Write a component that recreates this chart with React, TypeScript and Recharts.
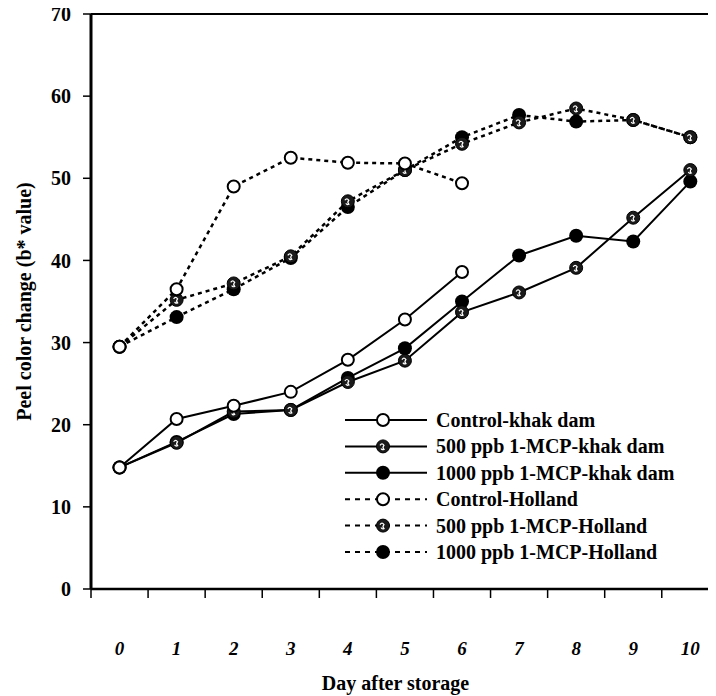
import { LineChart, Line, XAxis, YAxis, Legend, ReferenceLine } from 'recharts'

const days = [0, 1, 2, 3, 4, 5, 6, 7, 8, 9, 10]
const controlKhak = [14.8, 20.7, 22.3, 24.0, 27.9, 32.8, 38.6, null, null, null, null]
const mcp500Khak = [14.8, 17.8, 21.6, 21.8, 25.2, 27.8, 33.7, 36.1, 39.1, 45.2, 51.0]
const mcp1000Khak = [14.8, 17.9, 21.3, 21.8, 25.7, 29.3, 35.0, 40.6, 43.0, 42.3, 49.6]
const controlHolland = [29.5, 36.5, 49.0, 52.5, 51.9, 51.8, 49.4, null, null, null, null]
const mcp500Holland = [29.5, 35.2, 37.2, 40.5, 47.2, 51.0, 54.2, 56.8, 58.5, 57.1, 55.0]
const mcp1000Holland = [29.5, 33.1, 36.5, 40.3, 46.5, 51.0, 55.0, 57.7, 56.9, 57.1, 55.0]
const yTicks = [0, 10, 20, 30, 40, 50, 60, 70]

const FONT = '"Liberation Serif", "Times New Roman", serif'

type Kind = 'open' | 'hatch' | 'filled'

const series = [
  { key: 'ck', name: 'Control-khak dam', kind: 'open' as Kind, dashed: false, values: controlKhak },
  { key: 'k500', name: '500 ppb 1-MCP-khak dam', kind: 'hatch' as Kind, dashed: false, values: mcp500Khak },
  { key: 'k1000', name: '1000 ppb 1-MCP-khak dam', kind: 'filled' as Kind, dashed: false, values: mcp1000Khak },
  { key: 'ch', name: 'Control-Holland', kind: 'open' as Kind, dashed: true, values: controlHolland },
  { key: 'h500', name: '500 ppb 1-MCP-Holland', kind: 'hatch' as Kind, dashed: true, values: mcp500Holland },
  { key: 'h1000', name: '1000 ppb 1-MCP-Holland', kind: 'filled' as Kind, dashed: true, values: mcp1000Holland },
]

const data = days.map((day, i) => {
  const row: Record<string, number | null> = { day }
  series.forEach((s) => { row[s.key] = s.values[i] })
  return row
})

// labels sit on whole days, tick marks between them
const xTicks = days.flatMap((d) => [d - 0.5, d])

const Marker = ({ cx, cy, kind }: { cx: number; cy: number; kind: Kind }) => {
  if (kind === 'filled') return <circle cx={cx} cy={cy} r={7} fill="#000" />
  if (kind === 'open') return <circle cx={cx} cy={cy} r={6} fill="#fff" stroke="#000" strokeWidth={2} />
  return (
    <g>
      <circle cx={cx} cy={cy} r={6.5} fill="#1a1a1a" stroke="#000" strokeWidth={1} />
      <path
        d={`M${cx - 3},${cy - 1} q2,-3 4,0 q-2,2 0,4 q-2,1 -3,-1`}
        fill="none" stroke="#fff" strokeWidth={1.2}
      />
    </g>
  )
}

const makeDot = (kind: Kind) => (props: any) => {
  const { cx, cy, index } = props
  if (cx == null || cy == null || props.value == null) return <g key={index} />
  return <Marker key={index} cx={cx} cy={cy} kind={kind} />
}

const DayTick = ({ x, y, payload }: any) => {
  const v = payload.value
  if (!Number.isInteger(v)) {
    return <line x1={x} x2={x} y1={y} y2={y + 9} stroke="#000" strokeWidth={1.5} />
  }
  return (
    <text x={x} y={y + 66} textAnchor="middle" fontFamily={FONT} fontStyle="italic"
      fontWeight="bold" fontSize={19} fill="#000">
      {v}
    </text>
  )
}

const renderLegend = () => (
  <svg width={370} height={165}>
    {series.map((s, i) => {
      const cy = 12 + i * 26.4
      return (
        <g key={s.key}>
          <line x1={8} x2={90} y1={cy} y2={cy} stroke="#000" strokeWidth={2}
            strokeDasharray={s.dashed ? '5 5' : undefined} />
          <Marker cx={46} cy={cy} kind={s.kind} />
          <text x={99} y={cy + 7} fontFamily={FONT} fontWeight="bold" fontSize={20} fill="#000">
            {s.name}
          </text>
        </g>
      )
    })}
  </svg>
)

export default function App() {
  // pull the chart up over the body margin so the top label fits
  return (
    <div style={{ width: 708, height: 696, marginTop: -8, background: '#fff', fontFamily: FONT }}>
      <LineChart width={708} height={696} data={data} margin={{ top: 14, right: 0, left: 0, bottom: 0 }}>
        <XAxis
          dataKey="day"
          type="number"
          domain={[-0.5, 10.45]}
          allowDataOverflow
          ticks={xTicks}
          interval={0}
          tick={<DayTick />}
          tickLine={false}
          tickSize={0}
          tickMargin={0}
          height={107}
          axisLine={{ stroke: '#000', strokeWidth: 2.5 }}
          label={{
            value: 'Day after storage', position: 'insideBottom', offset: 6, dx: -8,
            style: { fontFamily: FONT, fontWeight: 'bold', fontSize: 20, fill: '#000' },
          }}
        />
        <YAxis
          domain={[0, 70]}
          ticks={yTicks}
          interval={0}
          width={83}
          tickSize={8}
          tickMargin={12}
          axisLine={{ stroke: '#000', strokeWidth: 3 }}
          tickLine={{ stroke: '#000', strokeWidth: 1.5 }}
          tick={{ fontFamily: FONT, fontWeight: 'bold', fontSize: 20, fill: '#000' }}
          label={{
            value: 'Peel color change (b* value)', angle: -90, position: 'insideLeft', offset: 16,
            style: { textAnchor: 'middle', fontFamily: FONT, fontWeight: 'bold', fontSize: 20, fill: '#000' },
          }}
        />
        <ReferenceLine y={70} stroke="#000" strokeWidth={2} />
        <Legend
          layout="horizontal"
          verticalAlign="middle"
          align="center"
          content={renderLegend}
          wrapperStyle={{ left: 329, top: 408, width: 370, height: 165 }}
        />
        {[...series].reverse().map((s) => (
          <Line
            key={s.key}
            dataKey={s.key}
            name={s.name}
            type="linear"
            stroke="#000"
            strokeWidth={s.dashed ? 2.5 : 2}
            strokeDasharray={s.dashed ? '4 4' : undefined}
            dot={makeDot(s.kind)}
            activeDot={false}
            isAnimationActive={false}
          />
        ))}
      </LineChart>
    </div>
  )
}
